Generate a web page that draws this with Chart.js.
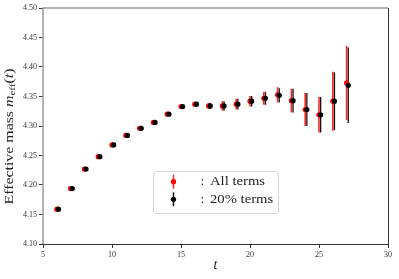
<!DOCTYPE html>
<html>
<head>
<meta charset="UTF-8">
<script src="https://cdn.jsdelivr.net/npm/chart.js"></script>
<style>
  html, body { margin: 0; padding: 0; background: #fff; }
  #wrap { width: 399px; height: 279px; position: relative; }
</style>
</head>
<body>
<div id="wrap"><canvas id="chart" width="399" height="279"></canvas></div>
<script>
// Data
const tValues = [6, 7, 8, 9, 10, 11, 12, 13, 14, 15, 16, 17, 18, 19, 20, 21, 22, 23, 24, 25, 26, 27];
const allTerms = [4.159, 4.194, 4.227, 4.248, 4.268, 4.284, 4.296, 4.306, 4.320, 4.333, 4.337, 4.334,
                  4.334, 4.337, 4.342, 4.347, 4.353, 4.343, 4.328, 4.319, 4.342, 4.373];
const allErr = [0.001, 0.001, 0.001, 0.001, 0.001, 0.001, 0.001, 0.002, 0.002, 0.002, 0.003, 0.005,
                0.008, 0.009, 0.009, 0.011, 0.013, 0.020, 0.028, 0.030, 0.050, 0.063];
const pctTerms = [4.159, 4.194, 4.227, 4.248, 4.268, 4.284, 4.296, 4.306, 4.320, 4.333, 4.337, 4.334,
                  4.334, 4.337, 4.342, 4.347, 4.352, 4.343, 4.328, 4.319, 4.342, 4.369];
const pctErr = [0.001, 0.001, 0.001, 0.001, 0.001, 0.001, 0.001, 0.002, 0.002, 0.002, 0.003, 0.005,
                0.008, 0.009, 0.009, 0.011, 0.012, 0.020, 0.028, 0.030, 0.049, 0.064];
const xTicks = [5, 10, 15, 20, 25, 30];
const yTicks = [4.10, 4.15, 4.20, 4.25, 4.30, 4.35, 4.40, 4.45, 4.50];
const legendLabels = ['All terms', '20% terms'];

const SERIF = '"Liberation Serif", "DejaVu Serif", serif';
const shift = 0.12; // small horizontal offset of the second series

const red = '#ff0000';
const black = '#000000';

// draw text stretched horizontally (the original uses a wide serif face)
function wideText(ctx, s, x, y, stretch) {
  ctx.save();
  ctx.translate(x, y);
  ctx.scale(stretch, 1);
  ctx.fillText(s, 0, 0);
  ctx.restore();
  return ctx.measureText(s).width * stretch;
}

// error bars, frame, y title and legend
const extras = {
  id: 'extras',
  beforeDatasetsDraw(chart) {
    const ctx = chart.ctx;
    const xs = chart.scales.x, ys = chart.scales.y;
    const sets = [
      { vals: allTerms, err: allErr, dx: 0, color: 'rgba(255,0,0,0.85)', w: 1.6 },
      { vals: pctTerms, err: pctErr, dx: shift, color: '#111', w: 1.3 }
    ];
    ctx.save();
    sets.forEach(s => {
      ctx.strokeStyle = s.color;
      ctx.lineWidth = s.w;
      tValues.forEach((t, i) => {
        const px = xs.getPixelForValue(t + s.dx);
        ctx.beginPath();
        ctx.moveTo(px, ys.getPixelForValue(s.vals[i] - s.err[i]));
        ctx.lineTo(px, ys.getPixelForValue(s.vals[i] + s.err[i]));
        ctx.stroke();
      });
    });
    ctx.restore();
  },
  afterDraw(chart) {
    const ctx = chart.ctx;
    const a = chart.chartArea;
    ctx.save();
    // frame
    ctx.lineWidth = 1.5;
    ctx.strokeStyle = '#9a9a9a';
    ctx.beginPath();
    ctx.moveTo(a.left, a.bottom);
    ctx.lineTo(a.left, a.top);
    ctx.lineTo(a.right, a.top);
    ctx.stroke();
    ctx.lineWidth = 1;
    ctx.strokeStyle = '#333';
    ctx.beginPath();
    ctx.moveTo(a.right + 0.5, a.top);
    ctx.lineTo(a.right + 0.5, a.bottom + 0.5);
    ctx.lineTo(a.left, a.bottom + 0.5);
    ctx.stroke();

    // y title with subscript, stretched to the original length
    ctx.translate(9.5, 136.5);
    ctx.rotate(-Math.PI / 2);
    ctx.fillStyle = '#222';
    ctx.textBaseline = 'middle';
    const parts = [
      { s: 'Effective mass ', f: '11.5px ' + SERIF, dy: 0 },
      { s: 'm', f: 'italic 11.5px ' + SERIF, dy: 0 },
      { s: 'eff', f: '8px ' + SERIF, dy: 3 },
      { s: '(', f: '11.5px ' + SERIF, dy: 0 },
      { s: 't', f: 'italic 11.5px ' + SERIF, dy: 0 },
      { s: ')', f: '11.5px ' + SERIF, dy: 0 }
    ];
    let total = 0;
    parts.forEach(p => { ctx.font = p.f; total += ctx.measureText(p.s).width; });
    const stretch = 136 / total;
    let x = -136 / 2;
    parts.forEach(p => {
      ctx.font = p.f;
      x += wideText(ctx, p.s, x, p.dy, stretch);
    });
    ctx.setTransform(1, 0, 0, 1, 0, 0);

    // legend box
    const bx = 153.5, by = 171.5, bw = 125, bh = 42;
    ctx.fillStyle = 'rgba(255,255,255,0.8)';
    ctx.strokeStyle = '#d6d6d6';
    ctx.lineWidth = 1;
    ctx.beginPath();
    ctx.roundRect(bx, by, bw, bh, 3);
    ctx.fill();
    ctx.stroke();
    const rows = [
      { y: 181.7, color: red, bar: 'rgba(255,0,0,0.85)' },
      { y: 199.3, color: black, bar: '#111' }
    ];
    ctx.font = '13px ' + SERIF;
    const legStretch = 55 / ctx.measureText(legendLabels[0]).width;
    rows.forEach((r, i) => {
      const mx = 173.5;
      ctx.strokeStyle = r.bar;
      ctx.lineWidth = 1.5;
      ctx.beginPath();
      ctx.moveTo(mx, r.y - 7);
      ctx.lineTo(mx, r.y + 7);
      ctx.stroke();
      ctx.fillStyle = r.color;
      ctx.beginPath();
      ctx.arc(mx, r.y, 2.6, 0, Math.PI * 2);
      ctx.fill();
      ctx.fillStyle = '#222';
      ctx.font = '13px ' + SERIF;
      ctx.textBaseline = 'middle';
      ctx.textAlign = 'left';
      ctx.fillText(':', 200.5, r.y);
      wideText(ctx, legendLabels[i], 210, r.y, legStretch);
    });
    ctx.restore();
  }
};

new Chart(document.getElementById('chart'), {
  type: 'scatter',
  data: {
    datasets: [
      {
        label: 'All terms',
        data: tValues.map((t, i) => ({ x: t, y: allTerms[i] })),
        backgroundColor: red,
        borderColor: red,
        pointRadius: 2.6,
        pointBorderWidth: 0,
        order: 2
      },
      {
        label: '20% terms',
        data: tValues.map((t, i) => ({ x: t + shift, y: pctTerms[i] })),
        backgroundColor: black,
        borderColor: black,
        pointRadius: 2.6,
        pointBorderWidth: 0,
        order: 1
      }
    ]
  },
  options: {
    responsive: false,
    animation: false,
    layout: { padding: { top: 8, right: 11, left: 0, bottom: 0 } },
    plugins: { legend: { display: false }, tooltip: { enabled: false } },
    scales: {
      x: {
        type: 'linear',
        min: 5,
        max: 30,
        afterBuildTicks: s => { s.ticks = xTicks.map(v => ({ value: v })); },
        afterFit: s => { s.height = 35; },
        border: { display: false },
        grid: { drawOnChartArea: false, tickLength: 4, color: '#333', lineWidth: 1 },
        ticks: {
          color: '#333',
          padding: 2,
          font: { family: SERIF, size: 8 },
          callback: v => String(v)
        },
        title: {
          display: true,
          text: 't',
          color: '#222',
          padding: { top: 0, bottom: 5 },
          font: { family: SERIF, size: 14, style: 'italic' }
        }
      },
      y: {
        min: 4.10,
        max: 4.50,
        afterBuildTicks: s => { s.ticks = yTicks.map(v => ({ value: v })); },
        afterFit: s => { s.width = 43; },
        border: { display: false },
        grid: { drawOnChartArea: false, tickLength: 4, color: '#333', lineWidth: 1 },
        ticks: {
          color: '#333',
          padding: 2,
          font: { family: SERIF, size: 8 },
          callback: v => v.toFixed(2)
        }
      }
    }
  },
  plugins: [extras]
});
</script>
</body>
</html>
